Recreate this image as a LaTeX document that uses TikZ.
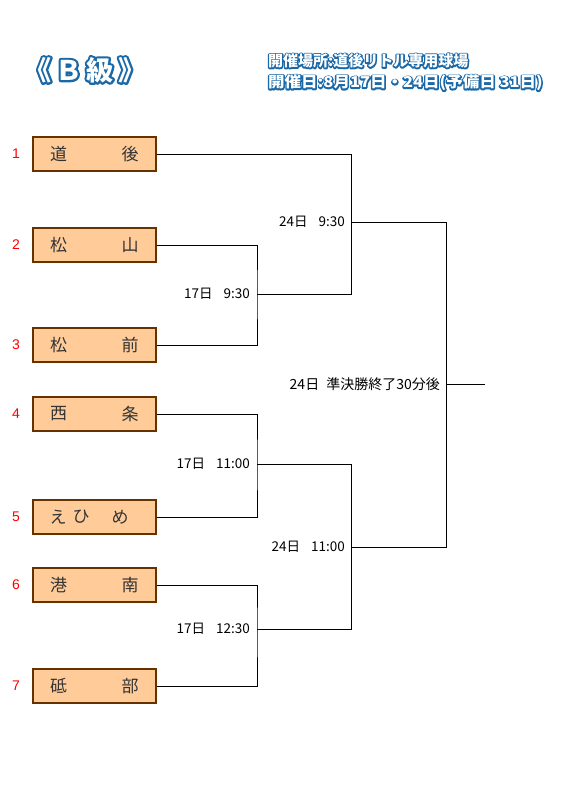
\documentclass[tikz,border=0pt]{standalone}
\usepackage{fontspec}
\setmainfont{Noto Sans CJK JP}
\newfontfamily\numfont{Liberation Sans}
\newfontfamily\haloH{Noto Sans CJK JP}[BoldFeatures={FakeBold=18}]
\newfontfamily\haloT{Noto Sans CJK JP}[BoldFeatures={FakeBold=16}]
\definecolor{boxfill}{HTML}{FFCC99}
\definecolor{boxline}{HTML}{663300}
\definecolor{txtgray}{HTML}{333333}
\definecolor{ttlblue}{HTML}{1A68A6}
\newcommand{\roundjoin}{\special{pdf:code 1 j 1 J}}
\newcommand{\ttltext}{《\hspace{4pt}Ｂ\hspace{4pt}級\hspace{5pt}》}
\newcommand{\hdrone}{開催場所:道後リトル専用球場}
\newcommand{\hdrtwo}{\scalebox{1.1}[1]{開催日:8月17日・24日(予備日 31日)}}
\begin{document}
\begin{tikzpicture}[x=1pt,y=-1pt,
  teambox/.style={draw=boxline,fill=boxfill,line width=1.1pt,minimum width=123pt,minimum height=34pt,inner sep=0pt},
  seed/.style={text=red,font=\numfont\fontsize{14}{14}\selectfont},
  tchar/.style={text=txtgray,font=\fontsize{17}{17}\selectfont,inner sep=0pt},
  timelbl/.style={anchor=east,font=\fontsize{13.5}{14}\selectfont,inner sep=0pt},
  conn/.style={line width=0.9pt,black},
  hdrhalo/.style={anchor=west,inner sep=0pt,text=ttlblue,font=\haloH\bfseries\fontsize{15}{15}\selectfont},
  hdrtxt/.style={anchor=west,inner sep=0pt,text=white,font=\bfseries\fontsize{15}{15}\selectfont},
  ttlhalo/.style={anchor=west,inner sep=0pt,text=ttlblue,font=\haloT\bfseries\fontsize{27}{27}\selectfont},
  ttltxt/.style={anchor=west,inner sep=0pt,text=white,font=\bfseries\fontsize{27}{27}\selectfont}
]
\useasboundingbox (0,0) rectangle (567,794);
% title
\node[ttlhalo] (titleh) at (24,70) {\roundjoin\ttltext};
\node[ttltxt] (title) at (24,70) {\ttltext};
\node[hdrhalo] (h1h) at (268,61) {\roundjoin\hdrone};
\node[hdrtxt] (h1) at (268,61) {\hdrone};
\node[hdrhalo] (h2h) at (268,83) {\roundjoin\hdrtwo};
\node[hdrtxt] (h2) at (268,83) {\hdrtwo};
% boxes
\node[teambox] (b1) at (94.5,154) {};
\node[teambox] (b2) at (94.5,245) {};
\node[teambox] (b3) at (94.5,345) {};
\node[teambox] (b4) at (94.5,414) {};
\node[teambox] (b5) at (94.5,517) {};
\node[teambox] (b6) at (94.5,585) {};
\node[teambox] (b7) at (94.5,686) {};
% seeds
\node[seed] (n1) at (16,154) {1};
\node[seed] (n2) at (16,245) {2};
\node[seed] (n3) at (16,345) {3};
\node[seed] (n4) at (16,414) {4};
\node[seed] (n5) at (16,517) {5};
\node[seed] (n6) at (16,585) {6};
\node[seed] (n7) at (16,686) {7};
% team names
\node[tchar] (t1a) at (58.5,154) {道}; \node[tchar] (t1b) at (130,154) {後};
\node[tchar] (t2a) at (58.5,245) {松}; \node[tchar] (t2b) at (130,245) {山};
\node[tchar] (t3a) at (58.5,345) {松}; \node[tchar] (t3b) at (130,345) {前};
\node[tchar] (t4a) at (58.5,414) {西}; \node[tchar] (t4b) at (130,414) {条};
\node[tchar] (t5a) at (58,517) {え}; \node[tchar] (t5b) at (81,517) {ひ}; \node[tchar] (t5c) at (120,517) {め};
\node[tchar] (t6a) at (58.5,585) {港}; \node[tchar] (t6b) at (130,585) {南};
\node[tchar] (t7a) at (58.5,686) {砥}; \node[tchar] (t7b) at (130,686) {部};
% junctions
\coordinate (j23) at (257,294);
\coordinate (j45) at (257,464);
\coordinate (j67) at (257,629);
\coordinate (s1b) at (351,294);
\coordinate (s1) at (351,222);
\coordinate (s2t) at (351,464);
\coordinate (s2b) at (351,629);
\coordinate (s2) at (351,547);
\coordinate (f1) at (446,222);
\coordinate (f2) at (446,547);
\coordinate (fm) at (446,384);
\coordinate (fend) at (485,384);
% connectors
\draw[conn] (b2.east) -| (j23) |- (b3.east);
\draw[conn] (b1.east) -| (s1b) -- (j23);
\draw[conn] (b4.east) -| (j45) |- (b5.east);
\draw[conn] (b6.east) -| (j67) |- (b7.east);
\draw[conn] (j45) -- (s2t) -- (s2b) -- (j67);
\draw[conn] (s1) -- (f1) -- (f2) -- (s2);
\draw[conn] (fm) -- (fend);
% labels
\node[timelbl] (l1) at (250,294) {17日\hspace{11pt}9:30};
\node[timelbl] (l2) at (345,222) {24日\hspace{11pt}9:30};
\node[timelbl] (l3) at (250,464) {17日\hspace{11pt}11:00};
\node[timelbl] (l4) at (345,547) {24日\hspace{11pt}11:00};
\node[timelbl] (l5) at (250,629) {17日\hspace{11pt}12:30};
\node[timelbl,font=\fontsize{14}{14}\selectfont] (l6) at (440,384) {24日\hspace{7pt}準決勝終了30分後};
\end{tikzpicture}
\end{document}
